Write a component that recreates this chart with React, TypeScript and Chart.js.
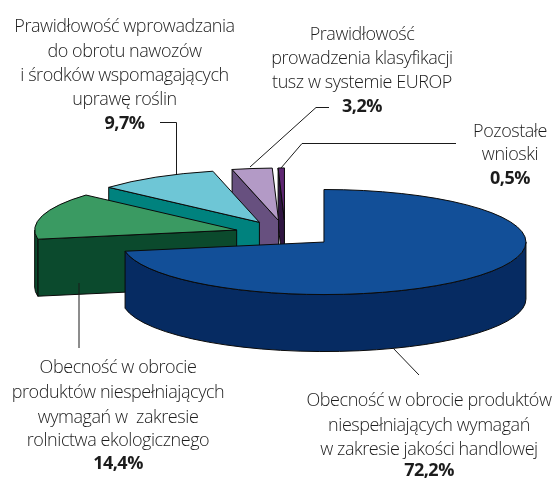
import React, { useEffect, useRef } from "react";
import { Chart, registerables } from "chart.js";

Chart.register(...registerables);

// Data
const categories = [
  "Obecność w obrocie produktów niespełniających wymagań w zakresie jakości handlowej",
  "Obecność w obrocie produktów niespełniających wymagań w zakresie rolnictwa ekologicznego",
  "Prawidłowość wprowadzania do obrotu nawozów i środków wspomagających uprawę roślin",
  "Prawidłowość prowadzenia klasyfikacji tusz w systemie EUROP",
  "Pozostałe wnioski",
];
const shares = [72.2, 14.4, 9.7, 3.2, 0.5];
const labelLines = [
  ["Obecność w obrocie produktów", "niespełniających wymagań", "w zakresie jakości handlowej"],
  ["Obecność w obrocie", "produktów niespełniających", "wymagań w  zakresie", "rolnictwa ekologicznego"],
  ["Prawidłowość wprowadzania", "do obrotu nawozów", "i środków wspomagających", "uprawę roślin"],
  ["Prawidłowość", "prowadzenia klasyfikacji", "tusz w systemie EUROP"],
  ["Pozostałe", "wnioski"],
];

// Styles and layout
const topColors = ["#124f98", "#3a9a62", "#6ec6d6", "#b39ac6", "#5e2672"];
const sideColors = ["#062b62", "#0b4a2d", "#00827e", "#67507f", "#2f1541"];
const RADIUS = 202;
const SQUASH = 0.26;
const EXPLODE = 0.25;
const DEPTH = 57;
const labelBoxes = [
  { x: 429, baselines: [406, 431, 455, 476] },
  { x: 118, baselines: [373, 398, 423, 446, 469] },
  { x: 124.5, baselines: [32, 57, 81, 105, 129] },
  { x: 362, baselines: [40, 64, 88, 112] },
  { x: 510, baselines: [137, 160, 184] },
];
const leaders = [
  [[393, 348], [419, 375]],
  [[79, 283], [79, 348]],
  [[160, 122.5], [176.5, 122.5], [176.5, 174]],
  [[250, 167], [316, 107.5], [329, 107.5]],
  [[281, 168], [302, 143.5], [456, 143.5]],
];

const pie3d = {
  id: "pie3d",
  beforeDatasetsDraw(chart: any) {
    const { ctx } = chart;
    const arcs = chart.getDatasetMeta(0).data;
    const cy = arcs[0].y;
    const flatten = () => {
      ctx.translate(0, cy);
      ctx.scale(1, SQUASH);
      ctx.translate(0, -cy);
    };
    ctx.lineWidth = 1;
    ctx.strokeStyle = "#0a0a0a";
    ctx.lineJoin = "round";
    // back to front
    for (let i = arcs.length - 1; i >= 0; i--) {
      const arc = arcs[i];
      const { x, y, startAngle: a0, endAngle: a1, outerRadius: r } = arc;
      const mid = (a0 + a1) / 2;
      const tx = EXPLODE * r * Math.cos(mid);
      const ty = EXPLODE * r * Math.sin(mid);
      const px = (a: number) => x + tx + r * Math.cos(a);
      const py = (a: number) => cy + SQUASH * (y - cy + ty + r * Math.sin(a));
      const ax = x + tx;
      const ay = cy + SQUASH * (y - cy + ty);
      ctx.fillStyle = sideColors[i];
      // cut face turned to the viewer
      if (Math.cos(a0) < -1e-6) {
        ctx.beginPath();
        ctx.moveTo(ax, ay);
        ctx.lineTo(px(a0), py(a0));
        ctx.lineTo(px(a0), py(a0) + DEPTH);
        ctx.lineTo(ax, ay + DEPTH);
        ctx.closePath();
        ctx.fill();
        ctx.stroke();
      }
      // outer wall turned to the viewer
      const from = Math.max(a0, 0);
      const to = Math.min(a1, Math.PI);
      if (to > from) {
        ctx.beginPath();
        ctx.save();
        flatten();
        ctx.arc(x + tx, y + ty, r, from, to);
        ctx.restore();
        ctx.save();
        ctx.translate(0, DEPTH);
        flatten();
        ctx.arc(x + tx, y + ty, r, to, from, true);
        ctx.restore();
        ctx.closePath();
        ctx.fill();
        ctx.stroke();
      }
      // top face, drawn by the library's arc element
      ctx.save();
      flatten();
      ctx.translate(tx, ty);
      arc.draw(ctx);
      ctx.restore();
      ctx.beginPath();
      ctx.save();
      flatten();
      ctx.moveTo(x + tx, y + ty);
      ctx.arc(x + tx, y + ty, r, a0, a1);
      ctx.closePath();
      ctx.restore();
      ctx.stroke();
    }
    return false;
  },
  afterDraw(chart: any) {
    const { ctx } = chart;
    ctx.save();
    ctx.strokeStyle = "#1a1a1a";
    ctx.lineWidth = 1;
    leaders.forEach((pts) => {
      ctx.beginPath();
      pts.forEach(([x, y], i) => (i ? ctx.lineTo(x, y) : ctx.moveTo(x, y)));
      ctx.stroke();
    });
    ctx.textAlign = "center";
    ctx.textBaseline = "alphabetic";
    ctx.fillStyle = "#1c1c1c";
    labelLines.forEach((lines, i) => {
      const box = labelBoxes[i];
      ctx.font = '300 18px "Open Sans"';
      (ctx as any).letterSpacing = "-0.44px";
      lines.forEach((line, j) => ctx.fillText(line, box.x, box.baselines[j]));
      ctx.font = '700 18px "Open Sans"';
      (ctx as any).letterSpacing = "-0.5px";
      ctx.fillText(
        shares[i].toFixed(1).replace(".", ",") + "%",
        box.x,
        box.baselines[lines.length]
      );
    });
    ctx.restore();
  },
};

export default function App() {
  const ref = useRef<HTMLCanvasElement>(null);
  useEffect(() => {
    document.body.style.margin = "0";
    const chart = new Chart(ref.current!, {
      type: "pie",
      data: {
        labels: categories,
        datasets: [{ data: shares, backgroundColor: topColors, borderWidth: 0 }],
      },
      options: {
        responsive: false,
        animation: false,
        radius: RADIUS,
        layout: { padding: { left: 15.5, bottom: 11.8 } },
        plugins: { legend: { display: false }, tooltip: { enabled: false } },
      },
      plugins: [pie3d],
    } as any);
    return () => chart.destroy();
  }, []);
  return <canvas ref={ref} width={555} height={479} style={{ display: "block" }} />;
}
